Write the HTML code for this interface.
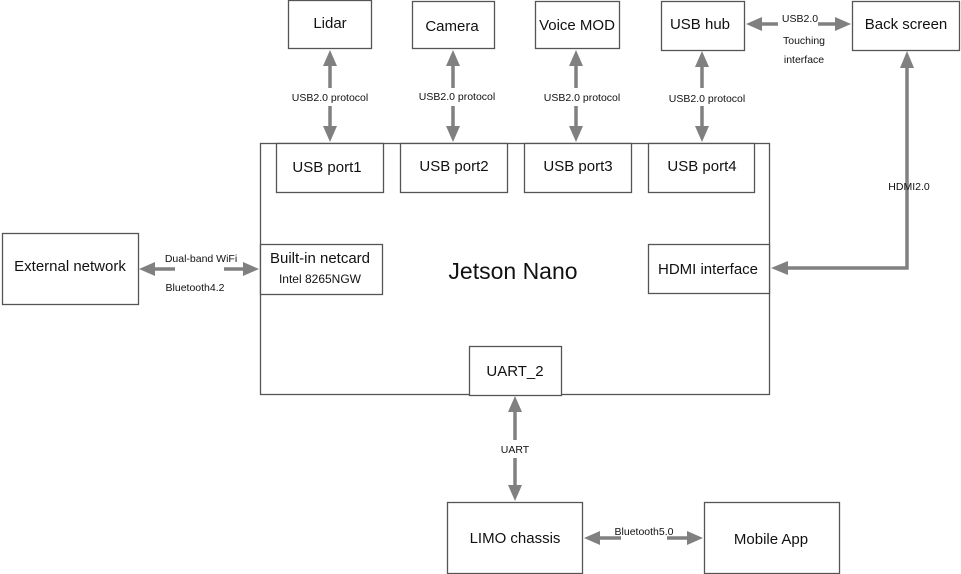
<!DOCTYPE html>
<html><head><meta charset="utf-8"><style>
html,body{margin:0;padding:0;background:#fff;}
svg{display:block;}
text{font-family:"Liberation Sans","DejaVu Sans",sans-serif;fill:#111;}
</style></head><body>
<svg width="961" height="574" viewBox="0 0 961 574" xmlns="http://www.w3.org/2000/svg">
<g fill="#fff" stroke="#555" stroke-width="1.3">
<rect x="288.5" y="0.5" width="83" height="48"/>
<rect x="412.5" y="1.5" width="82" height="47"/>
<rect x="535.5" y="1.5" width="84" height="47"/>
<rect x="661.5" y="1.5" width="83" height="49"/>
<rect x="852.5" y="1.5" width="107" height="49"/>
<rect x="260.5" y="143.5" width="509" height="251"/>
<rect x="276.5" y="143.5" width="107" height="49"/>
<rect x="400.5" y="143.5" width="107" height="49"/>
<rect x="524.5" y="143.5" width="107" height="49"/>
<rect x="648.5" y="143.5" width="106" height="49"/>
<rect x="260.5" y="244.5" width="122" height="50"/>
<rect x="648.5" y="244.5" width="121" height="49"/>
<rect x="2.5" y="233.5" width="136" height="71"/>
<rect x="469.5" y="346.5" width="92" height="49"/>
<rect x="447.5" y="502.5" width="135" height="71"/>
<rect x="704.5" y="502.5" width="135" height="71"/>
</g>
<g stroke="#808080" stroke-width="3.5" fill="none">
<line x1="330" y1="64" x2="330" y2="88"/><line x1="330" y1="106" x2="330" y2="128"/>
<line x1="453" y1="64" x2="453" y2="88"/><line x1="453" y1="106" x2="453" y2="128"/>
<line x1="576" y1="64" x2="576" y2="88"/><line x1="576" y1="106" x2="576" y2="128"/>
<line x1="702" y1="64" x2="702" y2="88"/><line x1="702" y1="106" x2="702" y2="128"/>
<line x1="760" y1="24" x2="778" y2="24"/><line x1="818" y1="24" x2="838" y2="24"/>
<polyline points="907,66 907,268 786,268"/>
<line x1="153" y1="269" x2="175" y2="269"/><line x1="224" y1="269" x2="246" y2="269"/>
<line x1="515" y1="410" x2="515" y2="440"/><line x1="515" y1="458" x2="515" y2="487"/>
<line x1="597" y1="538" x2="621" y2="538"/><line x1="667" y1="538" x2="690" y2="538"/>
</g>
<g fill="#808080">
<polygon points="330,50 323,66 337,66"/><polygon points="330,142 323,126 337,126"/>
<polygon points="453,50 446,66 460,66"/><polygon points="453,142 446,126 460,126"/>
<polygon points="576,50 569,66 583,66"/><polygon points="576,142 569,126 583,126"/>
<polygon points="702,51 695,67 709,67"/><polygon points="702,142 695,126 709,126"/>
<polygon points="746,24 762,17 762,31"/><polygon points="851,24 835,17 835,31"/>
<polygon points="907,51 900,68 914,68"/><polygon points="771,268 788,261 788,275"/>
<polygon points="139,269 155,262 155,276"/><polygon points="259,269 243,262 243,276"/>
<polygon points="515,396 508,412 522,412"/><polygon points="515,501 508,485 522,485"/>
<polygon points="584,538 600,531 600,545"/><polygon points="703,538 687,531 687,545"/>
</g>
<g font-size="15" text-anchor="middle">
<text x="330" y="28">Lidar</text>
<text x="452" y="31">Camera</text>
<text x="577" y="30">Voice MOD</text>
<text x="700" y="29">USB hub</text>
<text x="906" y="29">Back screen</text>
<text x="327" y="172">USB port1</text>
<text x="454" y="171">USB port2</text>
<text x="578" y="171">USB port3</text>
<text x="702" y="171">USB port4</text>
<text x="320" y="263">Built-in netcard</text>
<text x="708" y="274">HDMI interface</text>
<text x="515" y="376">UART_2</text>
<text x="515" y="543">LIMO chassis</text>
<text x="771" y="544">Mobile App</text>
<text x="70" y="271">External network</text>
</g>
<text x="513" y="279" font-size="23" text-anchor="middle">Jetson Nano</text>
<g font-size="10.5" text-anchor="middle">
<text x="320" y="283" font-size="12">Intel 8265NGW</text>
<text x="330" y="101">USB2.0 protocol</text>
<text x="457" y="100">USB2.0 protocol</text>
<text x="582" y="101">USB2.0 protocol</text>
<text x="707" y="102">USB2.0 protocol</text>
<text x="800" y="22">USB2.0</text>
<text x="804" y="44">Touching</text>
<text x="804" y="63">interface</text>
<text x="909" y="190">HDMI2.0</text>
<text x="201" y="262">Dual-band WiFi</text>
<text x="195" y="291">Bluetooth4.2</text>
<text x="515" y="453">UART</text>
<text x="644" y="535">Bluetooth5.0</text>
</g>
</svg>
</body></html>
